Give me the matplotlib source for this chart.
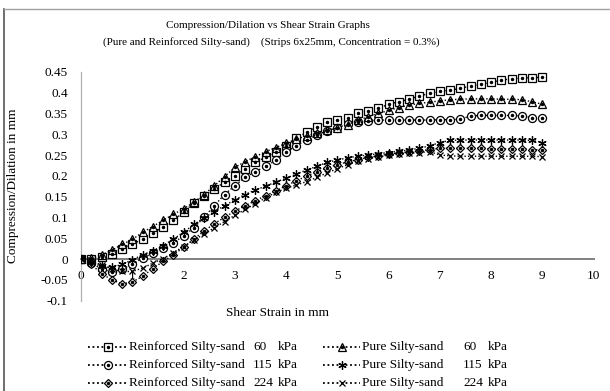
import matplotlib
matplotlib.use('Agg')
import matplotlib.pyplot as plt
from matplotlib.lines import Line2D

strain = [0.0, 0.2, 0.4, 0.6, 0.8, 1.0, 1.2, 1.4, 1.6, 1.8, 2.0, 2.2, 2.4, 2.6, 2.8,
          3.0, 3.2, 3.4, 3.6, 3.8, 4.0, 4.2, 4.4, 4.6, 4.8, 5.0, 5.2, 5.4, 5.6, 5.8,
          6.0, 6.2, 6.4, 6.6, 6.8, 7.0, 7.2, 7.4, 7.6, 7.8, 8.0, 8.2, 8.4, 8.6, 8.8, 9.0]

reinf_60 = [0.000, 0.001, 0.006, 0.013, 0.025, 0.035, 0.048, 0.062, 0.077, 0.093,
            0.112, 0.135, 0.152, 0.168, 0.185, 0.200, 0.216, 0.232, 0.245, 0.258,
            0.272, 0.290, 0.305, 0.318, 0.330, 0.335, 0.340, 0.350, 0.356, 0.362,
            0.372, 0.378, 0.384, 0.392, 0.398, 0.403, 0.406, 0.410, 0.416, 0.420,
            0.425, 0.430, 0.433, 0.435, 0.436, 0.437]
reinf_115 = [0.000, -0.010, -0.024, -0.031, -0.025, -0.012, 0.002, 0.014, 0.026, 0.039,
             0.055, 0.075, 0.100, 0.128, 0.155, 0.176, 0.196, 0.210, 0.223, 0.237,
             0.257, 0.272, 0.286, 0.298, 0.308, 0.316, 0.324, 0.329, 0.332, 0.334,
             0.334, 0.334, 0.334, 0.334, 0.334, 0.335, 0.335, 0.336, 0.344, 0.345,
             0.345, 0.345, 0.345, 0.344, 0.340, 0.340]
reinf_224 = [0.000, -0.013, -0.035, -0.050, -0.060, -0.055, -0.042, -0.023, -0.006, 0.010,
             0.028, 0.048, 0.067, 0.085, 0.100, 0.115, 0.128, 0.140, 0.152, 0.164,
             0.176, 0.188, 0.199, 0.210, 0.219, 0.227, 0.233, 0.239, 0.244, 0.248,
             0.252, 0.255, 0.257, 0.260, 0.263, 0.266, 0.266, 0.266, 0.266, 0.266,
             0.265, 0.265, 0.264, 0.264, 0.263, 0.262]
pure_60 = [0.000, 0.003, 0.010, 0.021, 0.035, 0.047, 0.064, 0.078, 0.093, 0.107,
           0.121, 0.136, 0.155, 0.176, 0.198, 0.220, 0.234, 0.246, 0.258, 0.268,
           0.278, 0.288, 0.296, 0.303, 0.309, 0.315, 0.323, 0.333, 0.342, 0.350,
           0.357, 0.364, 0.370, 0.374, 0.377, 0.380, 0.383, 0.384, 0.385, 0.385,
           0.385, 0.384, 0.384, 0.383, 0.378, 0.372]
pure_115 = [0.000, -0.008, -0.018, -0.020, -0.013, -0.002, 0.010, 0.020, 0.032, 0.048,
            0.064, 0.083, 0.099, 0.114, 0.128, 0.142, 0.155, 0.166, 0.175, 0.185,
            0.194, 0.204, 0.214, 0.223, 0.232, 0.238, 0.243, 0.247, 0.250, 0.253,
            0.256, 0.259, 0.262, 0.266, 0.272, 0.280, 0.285, 0.286, 0.286, 0.286,
            0.286, 0.286, 0.286, 0.286, 0.285, 0.280]
pure_224 = [0.000, -0.005, -0.014, -0.024, -0.030, -0.030, -0.022, -0.010, 0.001, 0.015,
            0.030, 0.045, 0.060, 0.075, 0.090, 0.105, 0.119, 0.133, 0.147, 0.160,
            0.170, 0.178, 0.186, 0.196, 0.207, 0.217, 0.227, 0.235, 0.241, 0.245,
            0.249, 0.252, 0.254, 0.256, 0.258, 0.250, 0.248, 0.247, 0.247, 0.247,
            0.247, 0.247, 0.247, 0.247, 0.247, 0.246]

series_names = ["Reinforced Silty-sand", "Reinforced Silty-sand", "Reinforced Silty-sand",
                "Pure Silty-sand", "Pure Silty-sand", "Pure Silty-sand"]
pressures = ["60", "115", "224", "60", "115", "224"]
xticks = [0, 1, 2, 3, 4, 5, 6, 7, 8, 9, 10]
yticks = [-0.1, -0.05, 0, 0.05, 0.1, 0.15, 0.2, 0.25, 0.3, 0.35, 0.4, 0.45]
ytick_labels = ["-0.1", "-0.05", "0", "0.05", "0.1", "0.15", "0.2", "0.25", "0.3", "0.35", "0.4", "0.45"]

FONT = 'Liberation Serif'
W, H = 610, 391

def fx(px):
    return px / W

def fy(py):
    return 1 - py / H

fig = plt.figure(figsize=(6.1, 3.91), dpi=100)
fig.patch.set_facecolor('white')

ax_l, ax_r, ax_t, ax_b = 81, 593.6, 71.8, 300.6
ax = fig.add_axes([fx(ax_l), fy(ax_b), (ax_r - ax_l) / W, (ax_b - ax_t) / H])

styles = [
    dict(marker='s', ms=5.4, dot=True),
    dict(marker='o', ms=5.8, dot=True),
    dict(marker='D', ms=4.3, dot=True),
    dict(marker='^', ms=5.8, dot=True),
    dict(marker=(6, 2, 0), ms=6.0, dot=False),
    dict(marker='x', ms=4.6, dot=False),
]
data = [reinf_60, reinf_115, reinf_224, pure_60, pure_115, pure_224]

for ys, st in zip(data, styles):
    ax.plot(strain, ys, linestyle=(0, (1, 1.5)), color='black', lw=1.0,
            marker=st['marker'], ms=st['ms'], mfc='white', mec='black', mew=0.9, zorder=3)
    if st['dot']:
        ax.plot(strain, ys, linestyle='none', marker='o', ms=1.5, color='black', zorder=3.1)

ax.set_xlim(0, 10)
ax.set_ylim(-0.1, 0.45)
ax.set_xticks(xticks)
ax.set_xticklabels([str(t) for t in xticks])
ax.set_yticks(yticks)
ax.set_yticklabels(ytick_labels)
for s in ['top', 'right']:
    ax.spines[s].set_visible(False)
ax.spines['bottom'].set_position(('data', 0))
ax.spines['bottom'].set_color('#808080')
ax.spines['bottom'].set_linewidth(1.4)
ax.spines['left'].set_color('#b0b0b0')
ax.spines['left'].set_linewidth(0.9)
ax.tick_params(axis='both', length=0, labelsize=9.5)
ax.tick_params(axis='x', pad=8)
ax.tick_params(axis='y', pad=9.5)
for lab in ax.get_xticklabels() + ax.get_yticklabels():
    lab.set_fontfamily(FONT)
ax.patch.set_alpha(0)

# titles and axis labels
fig.text(fx(268), fy(25), "Compression/Dilation vs Shear Strain Graphs",
         ha='center', va='center', fontsize=8, family=FONT)
fig.text(fx(271), fy(42), "(Pure and Reinforced Silty-sand)    (Strips 6x25mm, Concentration = 0.3%)",
         ha='center', va='center', fontsize=8, family=FONT)
fig.text(fx(277), fy(313), "Shear Strain in mm", ha='center', va='center', fontsize=9.5, family=FONT)
fig.text(fx(13), fy(186), "Compression/Dilation in mm", ha='center', va='center',
         rotation=90, fontsize=9.5, family=FONT)

# chart border (left and top edges visible)
fig.add_artist(Line2D([fx(4), fx(4)], [fy(9), fy(395)], transform=fig.transFigure,
                      color='#555555', lw=1.2))
fig.add_artist(Line2D([fx(4), fx(615)], [fy(9), fy(9)], transform=fig.transFigure,
                      color='#a0a0a0', lw=1.0))

# legend (manual)
rows = [347, 365, 383]
cols = [dict(l0=88, l1=127, text=129, num=253, kpa=278),
        dict(l0=323, l1=360, text=362, num=463, kpa=488)]
for i, (name, pr, st) in enumerate(zip(series_names, pressures, styles)):
    c = cols[i // 3]
    y = fy(rows[i % 3])
    fig.add_artist(Line2D([fx(c['l0']), fx(c['l1'])], [y, y], transform=fig.transFigure,
                          linestyle=(0, (1, 1.5)), color='black', lw=1.3))
    xm = fx((c['l0'] + c['l1']) / 2)
    fig.add_artist(Line2D([xm], [y], transform=fig.transFigure, linestyle='none',
                          marker=st['marker'], ms=st['ms'], mfc='white', mec='black', mew=0.9))
    if st['dot']:
        fig.add_artist(Line2D([xm], [y], transform=fig.transFigure, linestyle='none',
                              marker='o', ms=1.5, color='black'))
    fig.text(fx(c['text']), y, name, ha='left', va='center', fontsize=9.5, family=FONT)
    fig.text(fx(c['num']), y, pr, ha='left', va='center', fontsize=9.5, family=FONT)
    fig.text(fx(c['kpa']), y, "kPa", ha='left', va='center', fontsize=9.5, family=FONT)

fig.savefig('out.png', dpi=100)
